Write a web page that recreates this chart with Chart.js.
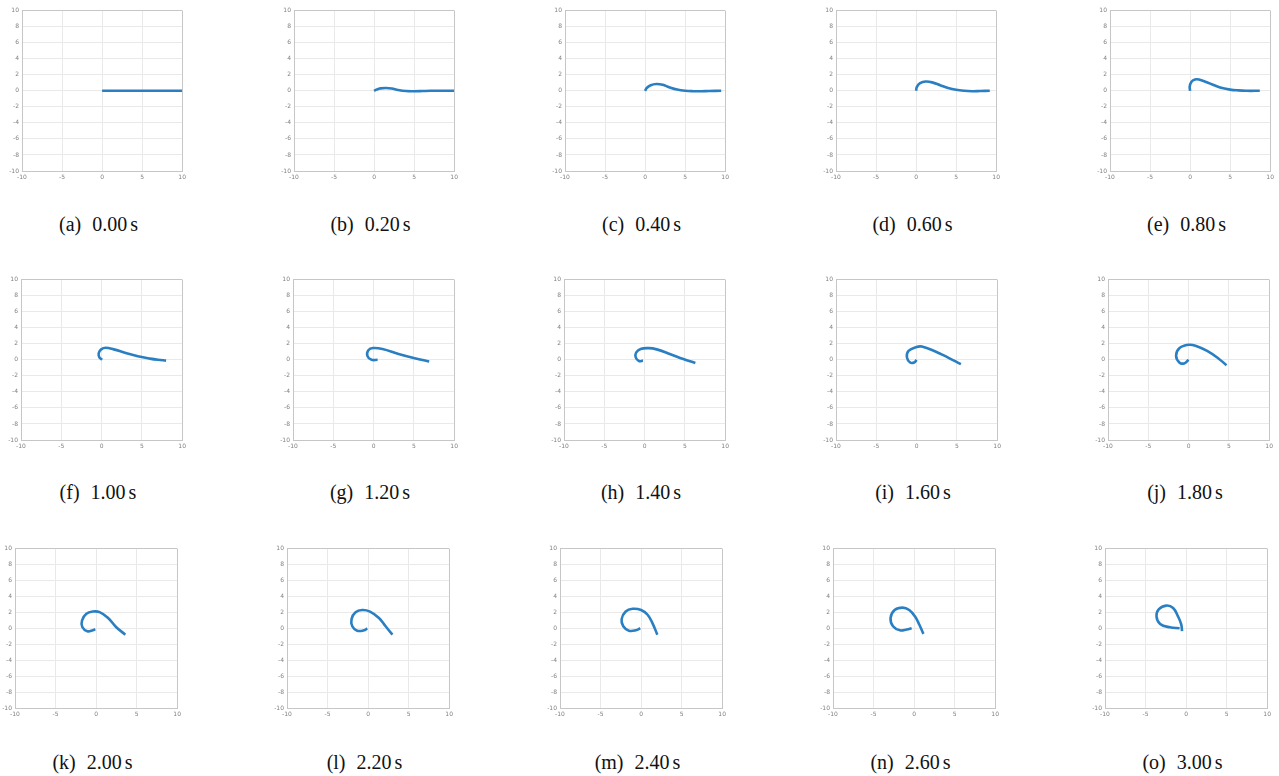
<!DOCTYPE html>
<html><head><meta charset="utf-8">
<script src="https://cdn.jsdelivr.net/npm/chart.js@4.4.0/dist/chart.umd.min.js"></script>
<style>
html,body{margin:0;padding:0;background:#fff;width:1279px;height:776px;overflow:hidden;position:relative;}
canvas{position:absolute;}
.cap{position:absolute;font-family:"Liberation Serif","Times New Roman",serif;font-size:20px;color:#111;white-space:nowrap;transform:translate(-50%,-50%);line-height:1;}
</style></head><body>
<script>
// ---- data ----
const panelTags = ['a','b','c','d','e','f','g','h','i','j','k','l','m','n','o'];
const timeLabels = ['0.00','0.20','0.40','0.60','0.80','1.00','1.20','1.40','1.60','1.80','2.00','2.20','2.40','2.60','3.00'];
const xTickValues = [-10,-5,0,5,10];
const yTickValues = [-10,-8,-6,-4,-2,0,2,4,6,8,10];

const curveA = [[0,0],[2,0],[4,0],[6,0],[8,0],[10,0]];
const curveB = [[0,0],[0.3,0.15],[0.8,0.3],[1.5,0.35],[2.2,0.28],[3,0.1],[4,-0.03],[5,-0.05],[6,-0.03],[7,0],[8.5,0],[10,0]];
const curveC = [[0,0],[0.2,0.35],[0.7,0.7],[1.4,0.85],[2.2,0.75],[3,0.45],[4,0.15],[5,0],[6,-0.05],[7,-0.05],[8,-0.02],[9.5,0]];
const curveD = [[0,0],[0.1,0.5],[0.5,0.95],[1.2,1.15],[2,1.05],[3,0.7],[4,0.35],[5,0.12],[6,0],[7,-0.05],[8,-0.03],[9.2,0]];
const curveE = [[0,0],[-0.05,0.5],[0.15,1.1],[0.6,1.4],[1.1,1.4],[2,1.1],[3,0.7],[4,0.35],[5,0.15],[6,0.05],[7,0],[8.7,0]];
const curveF = [[0.05,0],[-0.3,0.35],[-0.35,0.85],[-0.05,1.3],[0.5,1.5],[1.5,1.3],[3,0.85],[4.5,0.45],[6,0.15],[7,0],[8,-0.1]];
const curveG = [[0.5,0],[-0.25,0],[-0.77,0.5],[-0.65,1.2],[-0.06,1.47],[1.1,1.35],[3.1,0.73],[5.1,0.2],[6.9,-0.2]];
const curveH = [[-0.2,-0.1],[-0.7,-0.15],[-1.1,0.3],[-1.05,0.9],[-0.5,1.35],[0.5,1.45],[1.5,1.3],[3.2,0.7],[4.8,0.1],[6.3,-0.4]];
const curveI = [[0,0],[-0.3,-0.33],[-0.8,-0.33],[-1.2,0.3],[-1,1.1],[0,1.6],[0.65,1.65],[2.2,1.1],[3.85,0.3],[5.5,-0.55]];
const curveJ = [[0,0],[-0.55,-0.45],[-1.15,-0.33],[-1.55,0.5],[-1.15,1.45],[0,1.87],[0.85,1.75],[2.3,1.1],[3.7,0.17],[4.7,-0.67]];
const curveK = [[-0.1,-0.1],[-0.4,-0.25],[-1.08,-0.37],[-1.7,0.17],[-1.73,1],[-1.2,1.83],[-0.4,2.1],[0.43,2.03],[1.45,1.33],[2.46,0.17],[3.6,-0.8]];
const curveL = [[-0.1,0],[-0.5,-0.25],[-1.35,-0.3],[-1.95,0.25],[-2.04,1.15],[-1.55,2],[-0.72,2.3],[0.23,2.1],[1.34,1.3],[2.16,0.25],[3,-0.8]];
const curveM = [[-0.1,0],[-0.65,-0.25],[-1.5,-0.3],[-2.2,0.25],[-2.4,1.15],[-1.9,2.1],[-1.05,2.45],[0,2.3],[0.8,1.7],[1.4,0.65],[2,-0.8]];
const curveN = [[-0.3,0],[-0.9,-0.15],[-1.75,-0.25],[-2.6,0.25],[-2.9,1.3],[-2.4,2.3],[-1.4,2.6],[-0.6,2.3],[0.1,1.5],[0.65,0.45],[1.15,-0.7]];
const curveO = [[-0.8,0],[-2,0.12],[-3.2,0.55],[-3.65,1.5],[-3.35,2.4],[-2.45,2.85],[-1.6,2.55],[-1,1.5],[-0.6,0.5],[-0.5,-0.35]];

const curves = [curveA,curveB,curveC,curveD,curveE,curveF,curveG,curveH,curveI,curveJ,curveK,curveL,curveM,curveN,curveO];

// ---- layout ----
const rowTops = [10,279,548];
const rowPlotH = [161,161,160];
const rowPlotW = [161,162,163];
const rowLefts = [[22,294,565,836,1110],[21,293,564,836,1108],[15,287,560,833,1105]];
const capCenterY = [223.5,492,761.5];
const Y_AXIS_W = 14, X_AXIS_H = 12;
const PAD = {left:3, top:6, right:6, bottom:2};
const LINE_COLOR = '#2a7fc2';
const EDGE_COLOR = '#c6c6c6';
const GRID_COLOR = '#e9e9e9';

curves.forEach((curve, i) => {
  const r = Math.floor(i/5), c = i%5;
  const L = rowLefts[r][c], T = rowTops[r], W = rowPlotW[r], H = rowPlotH[r];
  const cv = document.createElement('canvas');
  const cw = PAD.left + Y_AXIS_W + W + PAD.right;
  const ch = PAD.top + H + X_AXIS_H + PAD.bottom;
  cv.width = cw; cv.height = ch;
  cv.style.width = cw + 'px'; cv.style.height = ch + 'px';
  cv.style.left = (L - PAD.left - Y_AXIS_W) + 'px';
  cv.style.top = (T - PAD.top) + 'px';
  document.body.appendChild(cv);

  const gridColor = (ctx) => (ctx.tick && Math.abs(ctx.tick.value) === 10) ? EDGE_COLOR : GRID_COLOR;
  const tickFont = {size:6, family:'DejaVu Sans'};

  new Chart(cv, {
    type: 'scatter',
    data: { datasets: [{
      data: curve.map(([x,y]) => ({x, y})),
      showLine: true, borderColor: LINE_COLOR, borderWidth: 2.6,
      pointRadius: 0, tension: 0.4, fill: false
    }]},
    options: {
      responsive: false, animation: false, devicePixelRatio: 1,
      layout: {padding: PAD},
      plugins: {legend: {display:false}, tooltip: {enabled:false}},
      scales: {
        x: {
          type: 'linear', min: -10, max: 10,
          afterBuildTicks: (s) => { s.ticks = xTickValues.map(v => ({value: v})); },
          ticks: {autoSkip:false, maxRotation:0, padding:3, font: tickFont, color:'#808080'},
          grid: {color: gridColor, drawTicks:false, lineWidth:1},
          border: {color: EDGE_COLOR, width:1},
          afterFit: (s) => { s.height = X_AXIS_H; }
        },
        y: {
          type: 'linear', min: -10, max: 10,
          afterBuildTicks: (s) => { s.ticks = yTickValues.map(v => ({value: v})); },
          ticks: {autoSkip:false, padding:3, font: tickFont, color:'#808080'},
          grid: {color: gridColor, drawTicks:false, lineWidth:1},
          border: {color: EDGE_COLOR, width:1},
          afterFit: (s) => { s.width = Y_AXIS_W; }
        }
      }
    }
  });

  const cap = document.createElement('div');
  cap.className = 'cap';
  cap.style.left = (L + W/2 - 4) + 'px';
  cap.style.top = capCenterY[r] + 'px';
  cap.innerHTML = '(' + panelTags[i] + ')<span style="margin-left:11px">' + timeLabels[i] + '</span><span style="margin-left:3px">s</span>';
  document.body.appendChild(cap);
});
</script>
</body></html>
